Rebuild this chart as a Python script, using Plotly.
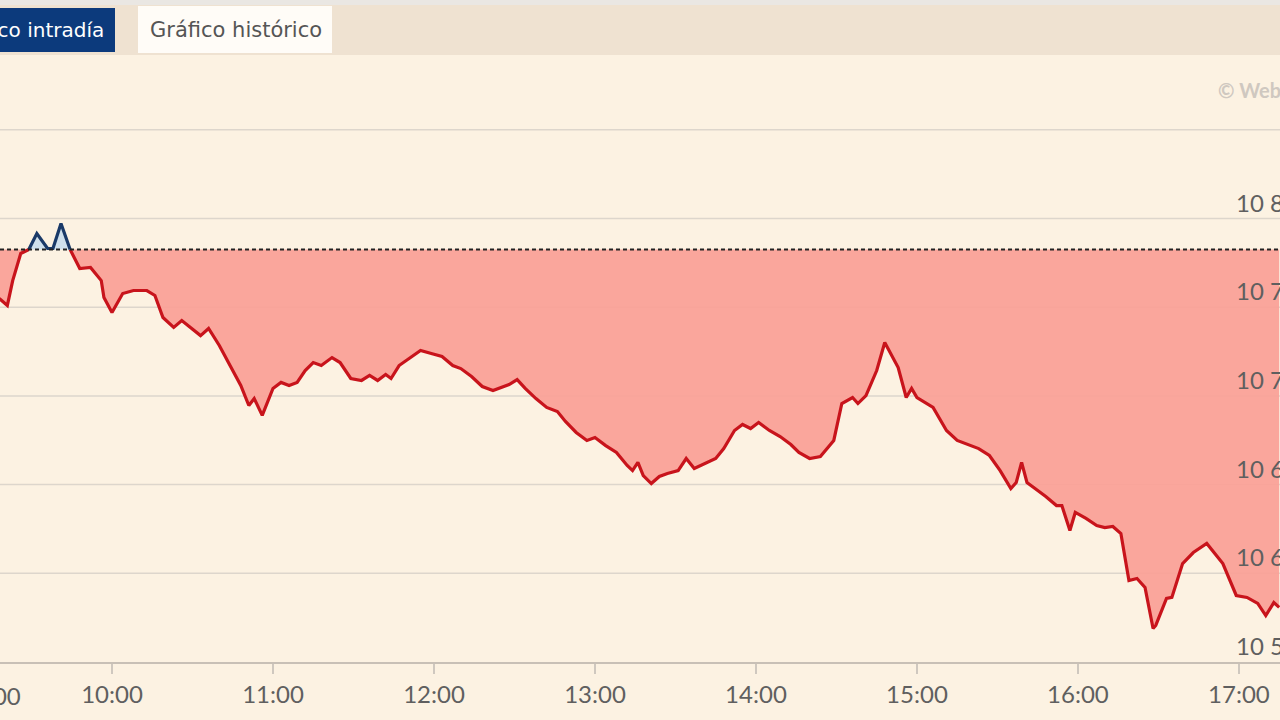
import plotly.graph_objects as go
import pandas as pd
import numpy as np

day = "2024-05-10"
times = ["09:18", "09:21", "09:23", "09:26", "09:29", "09:32", "09:36", "09:38", "09:41", "09:44",
         "09:48", "09:52", "09:56", "09:57", "10:00", "10:04", "10:08", "10:13", "10:16", "10:19",
         "10:23", "10:26", "10:33", "10:36", "10:40", "10:44", "10:48", "10:51", "10:53", "10:56",
         "11:00", "11:03", "11:06", "11:09", "11:12", "11:15", "11:18", "11:22", "11:25", "11:29",
         "11:33", "11:36", "11:39", "11:42", "11:44", "11:47", "11:51", "11:55", "11:59", "12:03",
         "12:07", "12:10", "12:14", "12:18", "12:22", "12:25", "12:28", "12:31", "12:34", "12:38",
         "12:42", "12:46", "12:49", "12:53", "12:57", "13:00", "13:04", "13:08", "13:12", "13:14",
         "13:16", "13:18", "13:21", "13:24", "13:27", "13:31", "13:34", "13:37", "13:41", "13:45",
         "13:48", "13:52", "13:55", "13:58", "14:01", "14:05", "14:09", "14:13", "14:16", "14:20",
         "14:24", "14:29", "14:32", "14:36", "14:38", "14:41", "14:45", "14:48", "14:53", "14:56",
         "14:58", "15:00", "15:06", "15:11", "15:15", "15:19", "15:23", "15:27", "15:31", "15:35",
         "15:37", "15:39", "15:41", "15:44", "15:48", "15:52", "15:54", "15:57", "15:59", "16:03",
         "16:07", "16:10", "16:13", "16:16", "16:19", "16:22", "16:25", "16:28", "16:29", "16:33",
         "16:35", "16:39", "16:43", "16:48", "16:51", "16:54", "16:59", "17:03", "17:07", "17:10",
         "17:13", "17:15"]
prices = [10754.9, 10751.0, 10765.0, 10780.3, 10782.5, 10791.5, 10783.1, 10783.1, 10797.2, 10783.7,
          10771.8, 10772.4, 10765.0, 10755.5, 10747.0, 10757.7, 10759.4, 10759.4, 10756.6, 10744.2,
          10738.6, 10742.5, 10734.0, 10738.0, 10728.4, 10717.1, 10705.9, 10694.6, 10698.5, 10689.0,
          10704.2, 10707.6, 10705.9, 10707.6, 10714.3, 10718.8, 10717.1, 10721.6, 10718.8, 10709.8,
          10708.7, 10711.5, 10708.7, 10712.1, 10709.8, 10717.1, 10721.1, 10725.6, 10723.9, 10722.2,
          10717.1, 10715.4, 10710.9, 10705.3, 10703.0, 10704.7, 10706.4, 10709.2, 10704.2, 10698.5,
          10693.5, 10691.2, 10685.6, 10679.4, 10674.9, 10676.5, 10672.0, 10668.1, 10660.8, 10657.9,
          10662.5, 10655.1, 10650.6, 10654.6, 10656.3, 10657.9, 10664.7, 10659.1, 10661.9, 10664.7,
          10670.3, 10680.5, 10683.9, 10681.6, 10685.0, 10680.5, 10677.1, 10672.6, 10668.1, 10664.7,
          10665.8, 10674.9, 10695.7, 10699.1, 10695.7, 10700.2, 10714.3, 10730.1, 10716.0, 10699.1,
          10704.2, 10699.1, 10693.5, 10680.5, 10674.9, 10672.6, 10670.3, 10666.4, 10657.9, 10647.8,
          10651.2, 10662.5, 10651.2, 10647.8, 10643.3, 10638.2, 10638.2, 10624.1, 10634.3, 10630.9,
          10626.9, 10625.8, 10626.4, 10622.4, 10595.9, 10597.1, 10592.0, 10568.9, 10570.6, 10585.8,
          10586.4, 10605.5, 10611.7, 10616.8, 10611.2, 10605.5, 10587.5, 10586.4, 10583.0, 10576.2,
          10583.5, 10580.8]
prev_close = 10782.5
y_tick_vals = [10550, 10600, 10650, 10700, 10750, 10800]
y_tick_text = ["10 550", "10 600", "10 650", "10 700", "10 750", "10 800"]
grid_vals = [10600, 10650, 10700, 10750, 10800, 10850]
x_tick_labels = ["10:00", "11:00", "12:00", "13:00", "14:00", "15:00", "16:00", "17:00"]

# ---- build series split at the previous close ----
ts = pd.to_datetime([f"{day} {s}" for s in times])
sec = np.array([(t - ts[0]).total_seconds() for t in ts])
v = np.array(prices)
xs, ys = [sec[0]], [v[0]]
for i in range(1, len(v)):
    a, b = v[i - 1] - prev_close, v[i] - prev_close
    if a * b < 0:
        f = a / (a - b)
        xs.append(sec[i - 1] + f * (sec[i] - sec[i - 1]))
        ys.append(prev_close)
    xs.append(sec[i])
    ys.append(v[i])
xs = np.array(xs)
ys = np.array(ys)
xdt = [ts[0] + pd.Timedelta(seconds=float(s)) for s in xs]

below = np.minimum(ys, prev_close)
above = np.maximum(ys, prev_close)
red_line = [y if y <= prev_close + 1e-9 else None for y in ys]
blue_line = [y if y >= prev_close - 1e-9 else None for y in ys]

BG = "#fcf2e2"
RED_FILL = "rgba(250,160,150,0.92)"
BLUE_FILL = "#cfe0ec"
RED = "#c8141c"
BLUE = "#1a3a68"
TXT = "#5f5f5f"

fig = go.Figure()
base = [prev_close] * len(xdt)
fig.add_trace(go.Scatter(x=xdt, y=base, mode="lines", line=dict(width=0), hoverinfo="skip", showlegend=False))
fig.add_trace(go.Scatter(x=xdt, y=below, mode="lines", line=dict(width=0), fill="tonexty",
                         fillcolor=RED_FILL, hoverinfo="skip", showlegend=False))
fig.add_trace(go.Scatter(x=xdt, y=base, mode="lines", line=dict(width=0), hoverinfo="skip", showlegend=False))
fig.add_trace(go.Scatter(x=xdt, y=above, mode="lines", line=dict(width=0), fill="tonexty",
                         fillcolor=BLUE_FILL, hoverinfo="skip", showlegend=False))
fig.add_trace(go.Scatter(x=xdt, y=red_line, mode="lines", line=dict(color=RED, width=3.2),
                         connectgaps=False, showlegend=False))
fig.add_trace(go.Scatter(x=xdt, y=blue_line, mode="lines", line=dict(color=BLUE, width=3.2),
                         connectgaps=False, showlegend=False))

W, H = 1280, 720
TOP, BOT = 56, 662


def py(p):
    return (BOT - p) / (BOT - TOP)


def px(p):
    return p / W


shapes = [
    dict(type="rect", xref="paper", yref="paper", x0=0, x1=1, y0=py(5), y1=py(0),
         fillcolor="#eae7e3", line=dict(width=0), layer="below"),
    dict(type="rect", xref="paper", yref="paper", x0=0, x1=1, y0=py(55), y1=py(5),
         fillcolor="#efe2d1", line=dict(width=0), layer="below"),
    dict(type="rect", xref="paper", yref="paper", x0=0, x1=px(115), y0=py(52), y1=py(8),
         fillcolor="#0c3a7c", line=dict(width=0)),
    dict(type="rect", xref="paper", yref="paper", x0=px(138), x1=px(332), y0=py(53), y1=py(6),
         fillcolor="#fffcf7", line=dict(width=0)),
    dict(type="line", xref="paper", yref="y", x0=0, x1=1, y0=prev_close, y1=prev_close,
         line=dict(color="#222222", width=2, dash="4px,3px")),
]
for g in grid_vals:
    shapes.append(dict(type="line", xref="paper", yref="y", x0=0, x1=1, y0=g, y1=g,
                       line=dict(color="#ddd6cc", width=1.5), layer="below"))

annotations = [
    dict(text="Gráfico intradía", xref="paper", yref="paper", x=px(106), y=py(30),
         xanchor="right", yanchor="middle", showarrow=False,
         font=dict(family="DejaVu Sans", size=20, color="#ffffff")),
    dict(text="Gráfico histórico", xref="paper", yref="paper", x=px(236), y=py(30),
         xanchor="center", yanchor="middle", showarrow=False,
         font=dict(family="DejaVu Sans", size=21, color="#555555")),
    dict(text="<b>© Webcapital</b>", xref="paper", yref="paper", x=px(1216), y=py(90),
         xanchor="left", yanchor="middle", showarrow=False,
         font=dict(family="Lato", size=20, color="#cfc8c0")),
    dict(text="9:00", xref="paper", yref="paper", x=px(23), y=py(695),
         xanchor="right", yanchor="middle", showarrow=False,
         font=dict(family="Lato", size=24, color=TXT)),
]
for val, txt in zip(y_tick_vals, y_tick_text):
    annotations.append(dict(text=txt, xref="paper", yref="y", x=px(1234), y=val,
                            xanchor="left", yanchor="bottom", yshift=0, showarrow=False,
                            font=dict(family="Lato", size=24, color=TXT)))

tickvals = [pd.Timestamp(f"{day} {h}") for h in x_tick_labels]
fig.update_layout(
    width=W, height=H,
    margin=dict(l=0, r=0, t=TOP, b=H - BOT, pad=0),
    paper_bgcolor=BG, plot_bgcolor=BG,
    shapes=shapes, annotations=annotations,
    showlegend=False,
    xaxis=dict(range=[pd.Timestamp(f"{day} 09:18:16"), pd.Timestamp(f"{day} 17:15:18")],
               tickvals=tickvals, ticktext=x_tick_labels, showgrid=False,
               ticks="outside", ticklen=10, tickcolor="#cfc8bf", tickwidth=1.5,
               showline=True, linecolor="#c8c0b6", linewidth=1.5,
               tickfont=dict(family="Lato", size=24, color=TXT), zeroline=False),
    yaxis=dict(range=[10550, 10550 + (BOT - TOP) / 1.774], showgrid=False, showticklabels=False,
               zeroline=False, showline=False),
)

fig.write_html("out.html", config={"displayModeBar": False},
               post_script="document.body.style.margin='0';document.body.style.overflow='hidden';")
